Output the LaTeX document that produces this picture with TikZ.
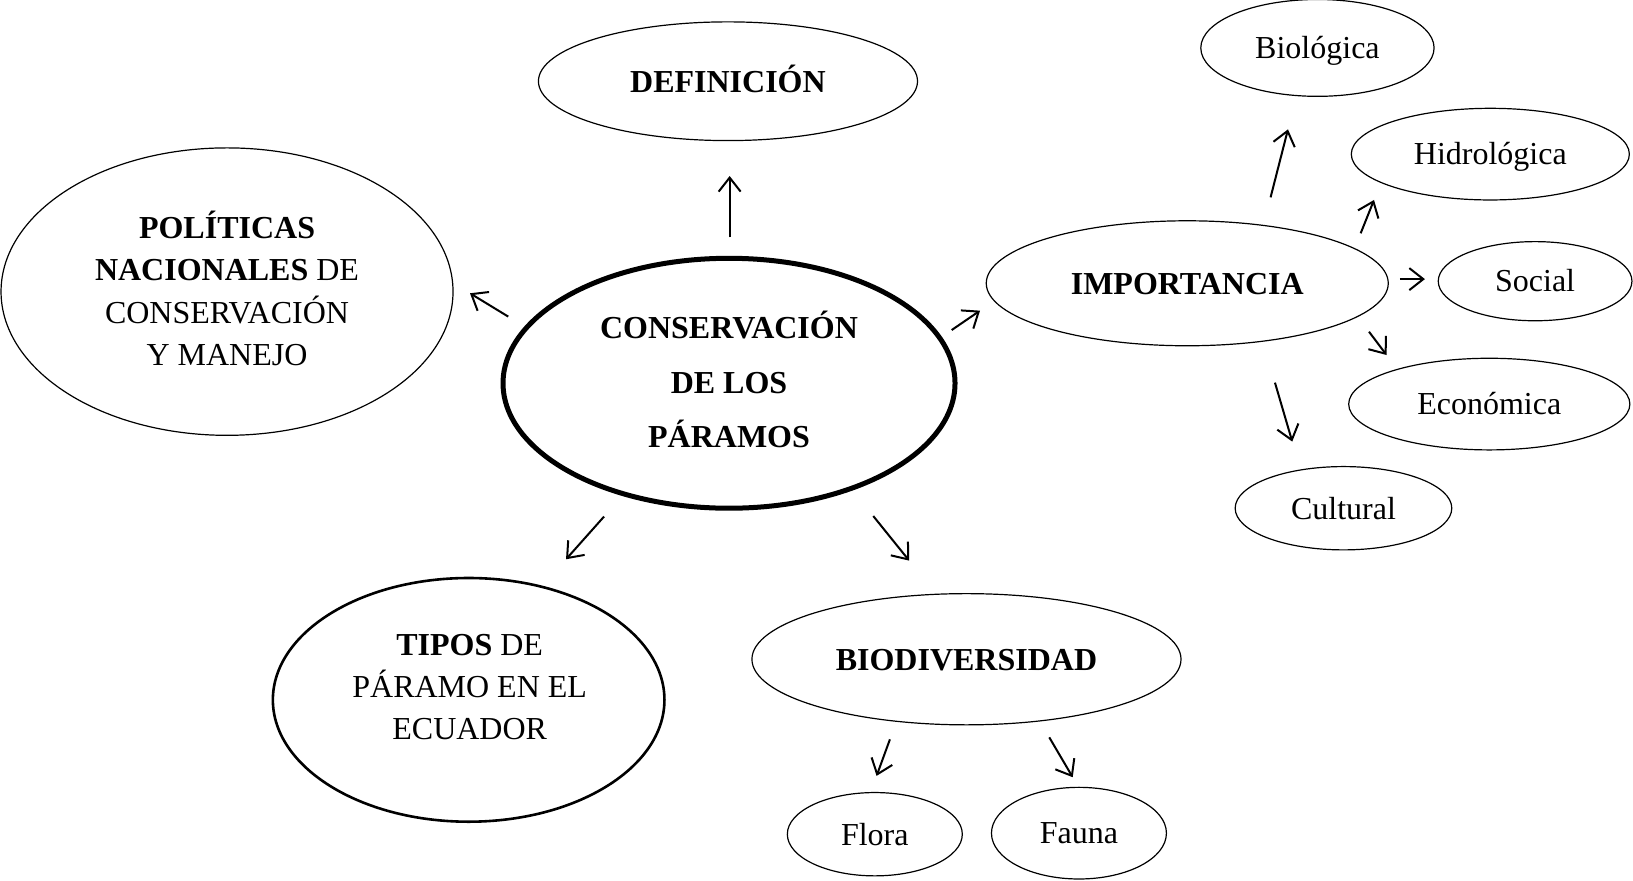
\documentclass[tikz,border=0pt]{standalone}
\usepackage{fontspec}
\setmainfont{Liberation Serif}
\usetikzlibrary{shapes.geometric,arrows.meta}
\tikzset{
  oval/.style 2 args={ellipse, draw, line width=0.6pt, inner sep=0pt, outer sep=0pt,
    minimum width=#1*0.52075pt, minimum height=#2*0.52075pt,
    font=\fontsize{16}{21.3}\selectfont, text height=10.8pt, text depth=0pt},
  txt/.style={align=center, inner sep=0pt},
  arr/.style={line width=1pt, -{Straight Barb[length=7pt,width=11pt]}}
}
\begin{document}
\begin{tikzpicture}[x=0.52075pt,y=-0.52075pt]
\useasboundingbox (0,0) rectangle (1568,845);
% central
\node[oval={434}{240}, line width=2.5pt] (cen) at (700,368) {};
\node[txt, font=\fontsize{16}{27.4}\selectfont] (cenT) at (700,364.5)
  {\textbf{CONSERVACIÓN}\\\textbf{DE LOS}\\\textbf{PÁRAMOS}};
\node[oval={364}{114}] (def) at (699,78) {\textbf{DEFINICIÓN}};
\node[oval={434}{276}] (pol) at (218,280) {};
\node[txt, font=\fontsize{16}{21.2}\selectfont] (polT) at (218,277)
  {\textbf{POLÍTICAS}\\\textbf{NACIONALES} DE\\CONSERVACIÓN\\Y MANEJO};
\node[oval={376}{234}, line width=1.3pt] (tip) at (450,672) {};
\node[txt, font=\fontsize{16}{21.1}\selectfont] (tipT) at (451,660)
  {\textbf{TIPOS} DE\\PÁRAMO EN EL\\ECUADOR};
\node[oval={412}{126}] (bio) at (928,633) {\textbf{BIODIVERSIDAD}};
\node[oval={168}{80}] (flo) at (840,801) {Flora};
\node[oval={168}{88}] (fau) at (1036,800) {Fauna};
\node[oval={386}{120}] (imp) at (1140,272) {\textbf{IMPORTANCIA}};
\node[oval={224}{93}] (bgl) at (1265,46) {Biológica};
\node[oval={267}{88}] (hid) at (1431,148) {Hidrológica};
\node[oval={186}{76}] (soc) at (1474,270) {Social};
\node[oval={270}{88}] (eco) at (1430,388) {Económica};
\node[oval={208}{80}] (cul) at (1290,488) {Cultural};
% arrow end points
\coordinate (a1s) at (700.6,228); \coordinate (a1e) at (700.6,169);
\coordinate (a2s) at (488,304);   \coordinate (a2e) at (451.3,281.6);
\coordinate (a3s) at (580,496);   \coordinate (a3e) at (543.5,537);
\coordinate (a4s) at (838.5,495.5); \coordinate (a4e) at (873,538.3);
\coordinate (a5s) at (913.8,316.9); \coordinate (a5e) at (941,298.3);
\coordinate (a6s) at (1220,189.5); \coordinate (a6e) at (1236.7,124.2);
\coordinate (a7s) at (1306.5,224); \coordinate (a7e) at (1319.3,192);
\coordinate (a8s) at (1344.2,268); \coordinate (a8e) at (1368.2,268);
\coordinate (a9s) at (1314.5,318.5); \coordinate (a9e) at (1331.4,340.9);
\coordinate (a10s) at (1224.2,367.4); \coordinate (a10e) at (1240.8,424);
\coordinate (a11s) at (854.5,709.9); \coordinate (a11e) at (841.7,745);
\coordinate (a12s) at (1007.5,708); \coordinate (a12e) at (1030,746.3);
\foreach \i in {1,...,12} {\draw[arr] (a\i s) -- (a\i e);}
\end{tikzpicture}
\end{document}
